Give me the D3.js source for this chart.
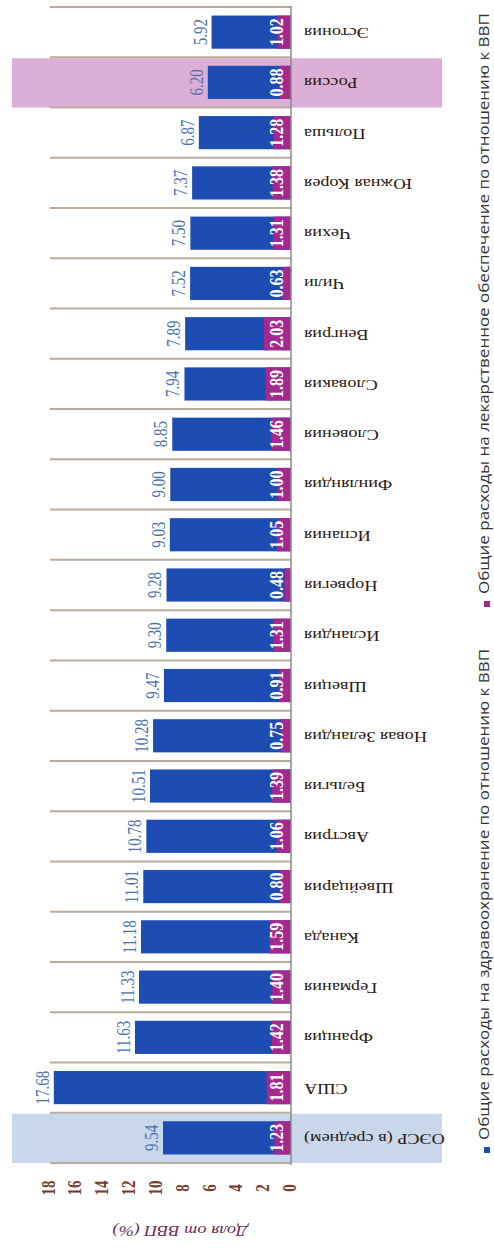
<!DOCTYPE html>
<html><head><meta charset="utf-8">
<script src="https://cdn.jsdelivr.net/npm/d3@7"></script>
<style>html,body{margin:0;padding:0;background:#fff;}svg{display:block;}</style>
</head><body>
<script>
const categories = ["ОЭСР (в среднем)","США","Франция","Германия","Канада","Швейцария","Австрия","Бельгия","Новая Зеландия","Швеция","Исландия","Норвегия","Испания","Финляндия","Словения","Словакия","Венгрия","Чили","Чехия","Южная Корея","Польша","Россия","Эстония"];
const healthTotal = [9.54,17.68,11.63,11.33,11.18,11.01,10.78,10.51,10.28,9.47,9.30,9.28,9.03,9.00,8.85,7.94,7.89,7.52,7.50,7.37,6.87,6.20,5.92];
const drugSpend = [1.23,1.81,1.42,1.40,1.59,0.80,1.06,1.39,0.75,0.91,1.31,0.48,1.05,1.00,1.46,1.89,2.03,0.63,1.31,1.38,1.28,0.88,1.02];
const tickValues = [0,2,4,6,8,10,12,14,16,18];
const highlightCats = ["ОЭСР (в среднем)","Россия"];
const highlightColors = ["#c9d7eb","#dcb0d6"];
const axisTitle = "Доля от ВВП (%)";
const legendLabels = ["Общие расходы на здравоохранение по отношению к ВВП","Общие расходы на лекарственное обеспечение по отношению к ВВП"];
const seriesColors = ["#1d4db2","#a4288e"];

const W = 494, H = 1248;
const svg = d3.select("body").append("svg").attr("width", W).attr("height", H);

const x = d3.scaleLinear().domain([0,18]).range([291, 49.5]);
const y = d3.scaleBand().domain(categories).range([1163, 7]).paddingInner(0.34).paddingOuter(0.17);
const step = y.step();
const rowTop = c => y(c) - step*0.17;

// highlight bands
highlightCats.forEach((c,i) => {
  svg.append("rect").attr("x", 12).attr("width", 430)
    .attr("y", rowTop(c)+1).attr("height", step-1)
    .attr("fill", highlightColors[i]);
});

// separators
const seps = categories.map(rowTop).concat([rowTop(categories[0]) + step]);
svg.selectAll("line.sep").data(seps).join("line").attr("class","sep")
  .attr("x1", 50).attr("x2", x(0)).attr("y1", d=>d).attr("y2", d=>d)
  .attr("stroke", "#bcaa9a").attr("stroke-width", 2);

const data = categories.map((c,i)=>({c, t: healthTotal[i], d: drugSpend[i]}));

// bars
svg.selectAll("rect.tot").data(data).join("rect").attr("class","tot")
  .attr("x", d=>x(d.t)).attr("width", d=>x(0)-x(d.t))
  .attr("y", d=>y(d.c)).attr("height", y.bandwidth())
  .attr("fill", seriesColors[0]);
svg.selectAll("rect.drug").data(data).join("rect").attr("class","drug")
  .attr("x", d=>x(d.d)).attr("width", d=>x(0)-x(d.d))
  .attr("y", d=>y(d.c)).attr("height", y.bandwidth())
  .attr("fill", seriesColors[1]);

// axis line
svg.append("line").attr("x1", x(0)).attr("x2", x(0)).attr("y1", 6).attr("y2", 1165)
  .attr("stroke", "#8a8a8a").attr("stroke-width", 1.5);

// total labels
svg.selectAll("text.tot").data(data).join("text").attr("class","tot")
  .attr("transform", d=>`translate(${x(d.t)-5},${y(d.c)+y.bandwidth()/2}) scale(1.2,1) rotate(-90)`)
  .attr("text-anchor","middle")
  .attr("font-family","Liberation Serif, serif").attr("font-size", 15)
  .attr("fill","#4a72b0").text(d=>d.t.toFixed(2));

// drug labels
svg.selectAll("text.drug").data(data).join("text").attr("class","drug")
  .attr("transform", d=>`translate(${x(0)-8},${y(d.c)+y.bandwidth()/2}) scale(1.15,1) rotate(-90)`)
  .attr("text-anchor","middle")
  .attr("font-family","Liberation Serif, serif").attr("font-size", 16).attr("font-weight","bold")
  .attr("fill","#ffffff").text(d=>d.d.toFixed(2));

// category labels (upside-down)
svg.selectAll("text.cat").data(categories).join("text").attr("class","cat")
  .attr("transform", c=>`translate(304,${y(c)+y.bandwidth()/2 - 4}) scale(1.3,1) rotate(180)`)
  .attr("text-anchor","end")
  .attr("font-family","Liberation Serif, serif").attr("font-size", 14)
  .attr("fill","#2a1712").text(c=>c);

// tick labels
svg.selectAll("text.tick").data(tickValues).join("text").attr("class","tick")
  .attr("transform", d=>`translate(${x(d)+5},1188) scale(1.2,1) rotate(-90)`)
  .attr("text-anchor","middle")
  .attr("font-family","Liberation Serif, serif").attr("font-size", 15).attr("font-weight","bold")
  .attr("fill","#7a3a2c").text(d=>d);

// axis title (upside-down)
svg.append("text")
  .attr("transform", `translate(180,1226) scale(1.3,1) rotate(180)`)
  .attr("text-anchor","middle")
  .attr("font-family","Liberation Serif, serif").attr("font-size", 14).attr("font-style","italic")
  .attr("fill","#6a2d5c").text(axisTitle);

// legend
const legendY = [1150, 604];
legendLabels.forEach((lab,i) => {
  svg.append("rect").attr("x", 484).attr("y", legendY[i]-3).attr("width", 6).attr("height", 6)
    .attr("fill", seriesColors[i]);
  svg.append("text")
    .attr("transform", `translate(489,${legendY[i]-10}) scale(0.8,1) rotate(-90)`)
    .attr("text-anchor","start")
    .attr("font-family","Open Sans, sans-serif").attr("font-size", 17)
    .attr("fill","#333333").text(lab);
});
</script>
</body></html>
